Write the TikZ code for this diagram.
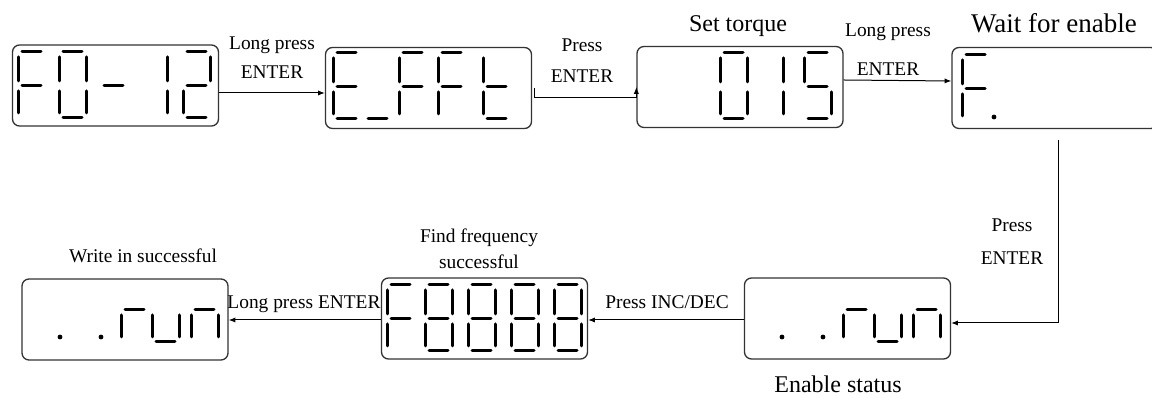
\documentclass[tikz,border=0pt]{standalone}
\usepackage{fontspec}
\setmainfont{Liberation Serif}
\usetikzlibrary{arrows.meta}
\tikzset{
  panel/.style={draw=black!80,line width=0.65pt,rounded corners=3.5pt,
    minimum width=103pt,minimum height=40.5pt,inner sep=0pt},
  sgm/.style={line width=1.5pt,line cap=round},
  arr/.style={-{Latex[length=3.4pt,width=2.6pt]},line width=0.5pt},
  lbl/.style={align=center,inner sep=0pt,font=\fontsize{9.7}{14.5}\selectfont},
  ttl/.style={inner sep=0pt,font=\fontsize{12}{14}\selectfont},
  seg a/.style={insert path={(4,0) -- (23,0)}},
  seg b/.style={insert path={(27,5) -- (27,29)}},
  seg c/.style={insert path={(27,39) -- (27,61)}},
  seg d/.style={insert path={(4,66) -- (23,66)}},
  seg e/.style={insert path={(0,39) -- (0,61)}},
  seg f/.style={insert path={(0,5) -- (0,29)}},
  seg g/.style={insert path={(4,34) -- (23,34)}},
}
% one seven-segment digit: left, top, lit segments
\newcommand{\lcd}[3]{%
  \begin{scope}[shift={(#1,#2)}]
    \foreach \s in {#3} {\draw[sgm,seg \s];}
  \end{scope}}
\newcommand{\dpt}[2]{\fill (#1,#2) circle (1.2pt);}

\begin{document}
\begin{tikzpicture}[x=0.5pt,y=-0.5pt]
  \useasboundingbox (0,0) rectangle (1152,399);
  % displays
  \node[panel] (b1) at (115.5,85.5) {};
  \node[panel] (b2) at (428.5,88) {};
  \node[panel] (b3) at (740,87) {};
  \node[panel] (b4) at (1055,88) {};
  \node[panel] (b5) at (847.5,318.5) {};
  \node[panel] (b6) at (484.5,318.5) {};
  \node[panel] (b7) at (125,319.5) {};
  % F0- 12
  \lcd{18}{52}{a,e,f,g} \lcd{59}{52}{a,b,c,d,e,f} \lcd{100}{52}{g}
  \lcd{140}{52}{b,c} \lcd{183}{52}{a,b,g,e,d}
  % E_FFt
  \lcd{333}{53}{a,d,e,f,g} \lcd{364}{53}{d} \lcd{399}{53}{a,e,f,g}
  \lcd{438}{53}{a,e,f,g} \lcd{483}{53}{d,e,f,g}
  % 015
  \lcd{720}{53}{a,b,c,d,e,f} \lcd{756}{53}{b,c} \lcd{804}{53}{a,f,g,c,d}
  % F.
  \lcd{962}{55}{a,e,f,g} \dpt{994}{117}
  % ..run
  \dpt{782}{337} \dpt{823}{337}
  \lcd{843}{276}{e,g} \lcd{874}{276}{c,d,e} \lcd{913}{276}{c,e,g}
  % F8888
  \lcd{387}{285}{a,e,f,g}
  \foreach \x in {425,468,511,554} {\lcd{\x}{285}{a,b,c,d,e,f,g}}
  % ..run
  \dpt{60}{337} \dpt{101}{337}
  \lcd{121}{276}{e,g} \lcd{152}{276}{c,d,e} \lcd{191}{276}{c,e,g}
  % titles
  \node[ttl,anchor=base] (t3) at (738,32) {Set torque};
  \node[ttl,anchor=base,font=\fontsize{13.5}{15}\selectfont] (t4) at (1054,33) {Wait for enable};
  \node[ttl,anchor=base] (t5) at (838,393) {Enable status};
  \node[lbl,anchor=base] (t7) at (143,263) {Write in successful};
  \node[lbl] (t6) at (479,248.5) {Find frequency\\[-1.5pt]successful};
  % key labels
  \node[lbl] (l12) at (272,58) {Long press\\ENTER};
  \node[lbl] (l23) at (582,61) {Press\\[1pt]ENTER};
  \node[lbl] (l34) at (888,50) {Long press\\[5pt]ENTER};
  \node[lbl] (l45) at (1012,242) {Press\\[2pt]ENTER};
  \node[lbl,anchor=base] (l56) at (667,309) {Press INC/DEC};
  \node[lbl,anchor=base] (l67) at (304,309) {Long press ENTER};
  % connectors
  \coordinate (drop) at (1058,140);
  \draw[arr] ([yshift=-3.75pt]b1.east) -- ([yshift=-2.5pt]b2.west);
  \draw[arr] ([xshift=1pt]b2.east) -- ++(0,10) -| (b3.west);
  \draw[arr] ([yshift=3.5pt]b3.east) -- ([yshift=3.5pt]b4.west);
  \draw[arr] (drop) |- ([yshift=-2.25pt]b5.east);
  \draw[arr] ([yshift=-0.75pt]b5.west) -- ([yshift=-0.75pt]b6.east);
  \draw[arr] ([yshift=-0.75pt]b6.west) -- ([yshift=-0.25pt]b7.east);
\end{tikzpicture}
\end{document}
